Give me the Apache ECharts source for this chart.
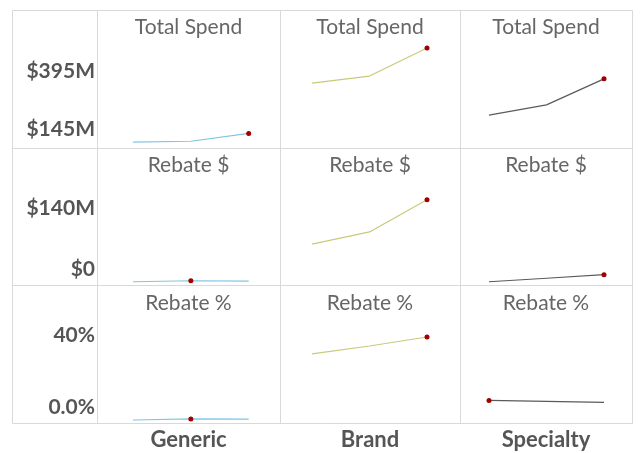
<!DOCTYPE html>
<html><head><meta charset="utf-8">
<script src="https://cdn.jsdelivr.net/npm/echarts@6/dist/echarts.min.js"></script>
<style>html,body{margin:0;padding:0;background:#fff}#c{width:640px;height:453px}</style>
</head><body><div id="c"></div>
<script>
// ---- data ----
const categories = ['Generic', 'Brand', 'Specialty'];
const metrics = ['Total Spend', 'Rebate $', 'Rebate %'];
const periods = ['Period 1', 'Period 2', 'Period 3'];

// $M
const totalSpendGeneric = [144, 148, 182];
const totalSpendBrand = [399, 429, 550];
const totalSpendSpecialty = [261, 305, 417];
// $M
const rebateDollarGeneric = [0.7, 3.0, 2.3];
const rebateDollarBrand = [87, 115, 189];
const rebateDollarSpecialty = [0.7, 8.7, 16.8];
// %
const rebatePctGeneric = [0.0, 0.6, 0.5];
const rebatePctBrand = [36.7, 41.1, 46.1];
const rebatePctSpecialty = [10.9, 10.4, 9.8];

const spendTicks = [145, 395];
const spendTickLabels = ['$145M', '$395M'];
const rebateDollarTicks = [0, 140];
const rebateDollarTickLabels = ['$0', '$140M'];
const rebatePctTicks = [0, 40];
const rebatePctTickLabels = ['0.0%', '40%'];

// ---- layout / style ----
const FONT = 'Lato, "Open Sans", sans-serif';
const lineColors = ['#7fc6e4', '#c9c97c', '#5a5a5a'];
const dotColor = '#a00000';
const gridLineColor = '#d9d9d9';
const colBounds = [[97, 280], [280, 460], [460, 632]];
const plotX = [[133, 248.7], [312, 427], [489, 604]];
const rowBounds = [[10, 148], [148, 285], [285, 423]];
const rowAxis = [
  { min: 100, max: 600, top: 36.4, height: 116 },
  { min: -10, max: 230, top: 181.8, height: 104.6 },
  { min: -5, max: 55, top: 321, height: 108 }
];
const rowTitleY = [27, 165, 303];

const rows = [
  { data: [totalSpendGeneric, totalSpendBrand, totalSpendSpecialty], ticks: spendTicks, labels: spendTickLabels },
  { data: [rebateDollarGeneric, rebateDollarBrand, rebateDollarSpecialty], ticks: rebateDollarTicks, labels: rebateDollarTickLabels },
  { data: [rebatePctGeneric, rebatePctBrand, rebatePctSpecialty], ticks: rebatePctTicks, labels: rebatePctTickLabels }
];

const grid = [], xAxis = [], yAxis = [], series = [], graphic = [];
let gi = 0;
rows.forEach((row, r) => {
  categories.forEach((cat, c) => {
    const ra = rowAxis[r];
    grid.push({ left: plotX[c][0], width: plotX[c][1] - plotX[c][0], top: ra.top, height: ra.height, containLabel: false });
    xAxis.push({ type: 'category', gridIndex: gi, data: periods, boundaryGap: false, show: false });
    yAxis.push({
      type: 'value', gridIndex: gi, min: ra.min, max: ra.max, show: c === 0,
      axisLine: { show: false }, axisTick: { show: false }, splitLine: { show: false },
      axisLabel: {
        show: c === 0,
        customValues: row.ticks,
        formatter: v => row.labels[row.ticks.indexOf(v)] || '',
        margin: 38,
        verticalAlign: 'bottom',
        padding: [0, 0, 2, 0],
        fontFamily: FONT, fontWeight: 'bold', fontSize: 21, color: '#555'
      }
    });
    const vals = row.data[c];
    const maxIdx = vals.indexOf(Math.max(...vals));
    series.push({
      type: 'line', xAxisIndex: gi, yAxisIndex: gi,
      data: vals.map((v, i) => ({ value: v, symbol: i === maxIdx ? 'circle' : 'none' })),
      symbolSize: 5,
      lineStyle: { color: lineColors[c], width: 1.2 },
      itemStyle: { color: dotColor },
      silent: true, animation: false
    });
    gi++;
  });
});

// table lines
graphic.push({ type: 'rect', shape: { x: 12.5, y: 10.5, width: 620, height: 413 }, style: { fill: 'none', stroke: gridLineColor, lineWidth: 1 }, z: 0 });
colBounds.forEach(b => graphic.push({ type: 'line', shape: { x1: b[0] + 0.5, y1: 10, x2: b[0] + 0.5, y2: 423 }, style: { stroke: gridLineColor, lineWidth: 1 } }));
rowBounds.slice(1).forEach(b => graphic.push({ type: 'line', shape: { x1: 12, y1: b[0] + 0.5, x2: 632, y2: b[0] + 0.5 }, style: { stroke: gridLineColor, lineWidth: 1 } }));

// cell titles
metrics.forEach((m, r) => {
  colBounds.forEach(b => {
    graphic.push({ type: 'text', style: { text: m, x: (b[0] + b[1]) / 2, y: rowTitleY[r], textAlign: 'center', textVerticalAlign: 'middle', fontFamily: FONT, fontSize: 21, fill: '#666' } });
  });
});
// category labels
categories.forEach((cat, c) => {
  const b = colBounds[c];
  graphic.push({ type: 'text', style: { text: cat, x: (b[0] + b[1]) / 2, y: 440, textAlign: 'center', textVerticalAlign: 'middle', fontFamily: FONT, fontSize: 22, fontWeight: 'bold', fill: '#555' } });
});

const chart = echarts.init(document.getElementById('c'), null, { renderer: 'canvas' });
chart.setOption({ animation: false, backgroundColor: '#fff', grid, xAxis, yAxis, series, graphic });
</script>
</body></html>
